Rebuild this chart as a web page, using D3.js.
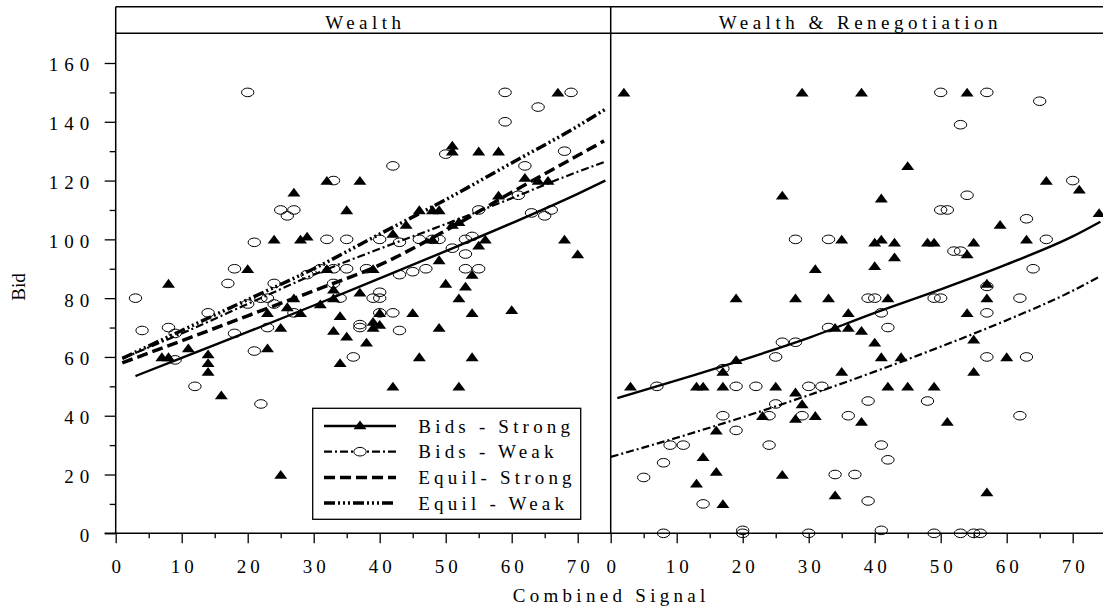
<!DOCTYPE html>
<html>
<head>
<meta charset="utf-8">
<script src="https://cdn.jsdelivr.net/npm/d3@7"></script>
<style>
body { margin:0; background:#fff; }
svg { display:block; font-family:"Liberation Serif","Times New Roman",serif; }
</style>
</head>
<body>
<svg id="chart" width="1103" height="611"></svg>
<script>
var panelTitles = ["Wealth", "Wealth & Renegotiation"];
var xTicks = [0,10,20,30,40,50,60,70];
var xMinorTicks = [5,15,25,35,45,55,65];
var yTicks = [0,20,40,60,80,100,120,140,160];
var yMinorTicks = [10,30,50,70,90,110,130,150];
var legendLabels = ["Bids - Strong","Bids - Weak","Equil- Strong","Equil - Weak"];

// Wealth panel, observed bids  [signal, bid]
var wealthStrong = [[8,85],[20,90],[24,100],[27,116],[28,100],[29,101],[32,120],[35,110],[37,120],
  [7,60],[8,60],[11,63],[14,61],[14,58],[14,55],[16,47],[23,63],[25,70],[25,20],
  [23,75],[26,77],[27,80],[28,75],[31,78],[33,80],[33,83],[32,90],[37,82],[39,90],
  [34,74],[33,69],[35,67],[34,58],[38,65],[39,72],[40,71],[39,70],[40,75],[42,102],
  [44,105],[45,75],[46,60],[42,50],[49,70],[49,93],[50,85],[53,84],[52,80],[54,88],
  [55,98],[56,100],[48,100],[51,105],[52,106],[46,110],[48,110],[49,110],[51,132],
  [51,130],[55,130],[58,130],[58,115],[62,121],[64,120],[65.5,120],[67,150],[68,100],[70,95],
  [60,76],[54,75],[54,60],[52,50]];
var wealthWeak = [[3,80],[4,69],[8,70],[9,68],[9,59],[12,50],[14,75],[17,85],[18,90],[18,68],
  [20,150],[20,78],[21,99],[21,62],[22,80],[23,80],[22,44],[23,70],[24,85],[24,78],
  [25,110],[26,108],[27,110],[27,75],[29,88],[31,90],[32,100],[33,90],[33,85],[33,120],
  [34,80],[35,100],[35,90],[36,60],[37,71],[37,70],[38,90],[39,80],[40,82],[40,80],
  [40,75],[42,75],[40,100],[42,125],[43,99],[43,88],[43,69],[45,89],[46,100],[47,90],
  [48,100],[49,100],[50,129],[51,97],[53,100],[54,101],[53,95],[53,90],[55,90],[55,110],
  [59,150],[59,140],[61,115],[62,125],[63,109],[65,108],[66,110],[64,145],[68,130],[69,150]];

// Wealth & Renegotiation panel
var renegStrong = [[2,150],[29,150],[38,150],[54,150],[26,115],[35,100],[31,90],[19,80],[28,80],[33,80],
  [45,125],[66,120],[71,117],[74,109],[41,114],[59,105],[40,99],[41,100],[43,99],[48,99],
  [49,99],[55,99],[63,100],[54,95],[43,94],[40,91],[57,85],[42,80],[57,80],[36,75],
  [34,70],[36,70],[19,59],[17,55],[3,50],[13,50],[14,50],[17,50],[25,50],[28,48],
  [35,55],[29,44],[23,40],[28,39],[31,40],[38,38],[16,35],[14,26],[16,21],[13,17],
  [26,20],[34,13],[17,10],[54,75],[38,69],[40,65],[55,66],[41,60],[44,60],[60,60],
  [55,55],[42,50],[45,50],[49,50],[51,38],[57,14]];
var renegWeak = [[28,100],[33,100],[50,150],[57,150],[65,147],[53,139],[70,120],[54,115],[50,110],[51,110],
  [63,107],[66,100],[52,96],[53,96],[64,90],[57,84],[39,80],[40,80],[49,80],[50,80],
  [62,80],[33,70],[26,65],[28,65],[25,60],[17,56],[7,50],[19,50],[22,50],[30,50],
  [32,50],[25,44],[17,40],[24,40],[29,40],[36,40],[19,35],[9,30],[11,30],[24,30],
  [8,24],[5,19],[34,20],[37,20],[14,10],[8,0],[20,1],[20,0],[30,0],[41,75],
  [57,75],[42,70],[57,60],[63,60],[39,45],[48,45],[62,40],[41,30],[42,25],[39,11],
  [41,1],[49,0],[53,0],[55,0],[56,0]];

// fitted curves
var wealthFitStrong = [[3,53.5],[10,59.7],[20,68.5],[30,77.5],[40,86.7],[50,96],[60,105.5],[70,115.5],[74.2,120]];
var wealthFitWeak = [[1,59.5],[10,68],[20,78],[30,88],[40,96.8],[50,105.2],[60,114],[70,123],[74,126.3]];
var equilStrong = [[1,58],[10,65.5],[20,74],[30,82.5],[40,91.3],[50,103],[60,116],[70,128.5],[74,133.5]];
var equilWeak = [[1,59.5],[10,69],[20,79.5],[30,90],[40,101.8],[50,113.5],[60,126],[70,138.5],[74.2,144.3]];
var renegFitStrong = [[1,46],[10,52],[20,59],[30,66.5],[40,75],[50,83],[60,91.5],[70,101],[74.2,106]];
var renegFitWeak = [[0,26],[10,32.5],[20,39.5],[30,47],[40,55],[50,63.5],[60,72.5],[70,82.5],[74.2,87.5]];

var styles = {
  bidsStrong: {dash:null, w:2.4},
  bidsWeak:   {dash:"8,3,2,3", w:2.2},
  eqStrong:   {dash:"11,5", w:3.5},
  eqWeak:     {dash:"11,3,2,3,2,3,2,3", w:3.5}
};

var svg = d3.select("#chart");
var FS = 19;
var y = d3.scaleLinear().domain([0,170]).range([533.3,33.6]);
var panelLeft = [115.7, 610.7], panelW = 495;
var stripTop = 6.7, stripBottom = 33.3;

var triPath = "M-6.5,4.2L6.5,4.2L0,-4.6Z";

var panels = [
  {title:panelTitles[0], strong:wealthStrong, weak:wealthWeak,
   lines:[[wealthFitStrong,"bidsStrong"],[wealthFitWeak,"bidsWeak"],[equilStrong,"eqStrong"],[equilWeak,"eqWeak"]]},
  {title:panelTitles[1], strong:renegStrong, weak:renegWeak,
   lines:[[renegFitStrong,"bidsStrong"],[renegFitWeak,"bidsWeak"]]}
];

panels.forEach(function (p, i) {
  var x = d3.scaleLinear().domain([0,75]).range([panelLeft[i], panelLeft[i]+panelW]);
  var g = svg.append("g");

  // markers
  g.selectAll(".tri")
   .data(p.strong)
   .enter()
   .append("path")
   .attr("d", triPath)
   .attr("transform", function (d) { return "translate(" + x(d[0]) + "," + y(d[1]) + ")"; })
   .attr("fill", "#000");

  g.selectAll(".circ")
   .data(p.weak)
   .enter()
   .append("ellipse")
   .attr("cx", function (d) { return x(d[0]); })
   .attr("cy", function (d) { return y(d[1]); })
   .attr("rx", 6.2).attr("ry", 4.3)
   .attr("fill", "none").attr("stroke", "#000").attr("stroke-width", 1);

  // fitted lines
  var line = d3.line()
               .x(function (d) { return x(d[0]); })
               .y(function (d) { return y(d[1]); })
               .curve(d3.curveMonotoneX);
  p.lines.forEach(function (l) {
    var s = styles[l[1]];
    g.append("path")
     .attr("d", line(l[0]))
     .attr("fill", "none")
     .attr("stroke", "#000")
     .attr("stroke-width", s.w)
     .attr("stroke-dasharray", s.dash);
  });

  // strip
  g.append("text")
   .attr("x", x(37.5)).attr("dx", 2.25)
   .attr("y", 29)
   .attr("text-anchor", "middle")
   .attr("font-size", FS)
   .attr("letter-spacing", 4.5)
   .text(p.title);

  // x axis
  var minor = d3.axisBottom(x).tickValues(xMinorTicks).tickSize(5).tickFormat("");
  var major = d3.axisBottom(x).tickValues(xTicks).tickSize(10);
  g.append("g").attr("transform","translate(0,533.3)").call(minor);
  var ax = g.append("g").attr("transform","translate(0,533.3)").call(major);
  ax.selectAll("text")
    .attr("y", 40).attr("dy", 0).attr("dx", 2)
    .attr("font-size", FS)
    .attr("letter-spacing", 4)
    .attr("font-family", "Liberation Serif, serif")
    .attr("fill", "#000");
  g.selectAll(".domain").remove();
  g.selectAll(".tick line").attr("stroke", "#000").attr("stroke-width", 1.3);
});

// y axis (left panel only)
var yMinor = d3.axisLeft(y).tickValues(yMinorTicks).tickSize(6).tickFormat("");
var yMajor = d3.axisLeft(y).tickValues(yTicks).tickSize(11).tickPadding(9.5);
svg.append("g").attr("transform","translate(115.7,0)").call(yMinor);
var ay = svg.append("g").attr("transform","translate(115.7,0)").call(yMajor);
ay.selectAll("text")
  .attr("dy", 8)
  .attr("font-size", FS)
  .attr("letter-spacing", 6)
  .attr("font-family", "Liberation Serif, serif")
  .attr("fill", "#000");
svg.selectAll(".domain").remove();
svg.selectAll(".tick line").attr("stroke", "#000").attr("stroke-width", 1.3);

// frame lines
var frame = svg.append("g").attr("stroke", "#000").attr("stroke-width", 1.5);
[115.7, 610.7, 1105.7].forEach(function (xx) {
  frame.append("line").attr("x1", xx).attr("x2", xx).attr("y1", stripTop).attr("y2", 533.3);
});
[stripTop, stripBottom, 533.3].forEach(function (yy) {
  frame.append("line").attr("x1", yy == 533.3 ? 104.7 : 115.7).attr("x2", 1105.7).attr("y1", yy).attr("y2", yy);
});

// axis titles
svg.append("text")
   .attr("transform", "translate(25,287) rotate(-90)")
   .attr("text-anchor", "middle")
   .attr("font-size", FS)
   .text("Bid");
svg.append("text")
   .attr("x", 609).attr("dx", 2.15)
   .attr("y", 601.7)
   .attr("text-anchor", "middle")
   .attr("font-size", FS)
   .attr("letter-spacing", 4.3)
   .text("Combined Signal");

// legend
var leg = svg.append("g");
leg.append("rect")
   .attr("x", 312.7).attr("y", 408.3)
   .attr("width", 268).attr("height", 111)
   .attr("fill", "#fff").attr("stroke", "#000").attr("stroke-width", 1.3);
var legKeys = ["bidsStrong","bidsWeak","eqStrong","eqWeak"];
var rows = leg.selectAll(".row")
   .data(legendLabels)
   .enter()
   .append("g")
   .attr("transform", function (d, k) { return "translate(0," + (426 + k*25.7) + ")"; });
rows.append("line")
    .attr("x1", 324).attr("x2", 396)
    .attr("stroke", "#000")
    .attr("stroke-width", function (d, k) { return styles[legKeys[k]].w; })
    .attr("stroke-dasharray", function (d, k) { return styles[legKeys[k]].dash; });
rows.filter(function (d, k) { return k == 0; })
    .append("path").attr("d", triPath).attr("transform", "translate(360,-1)").attr("fill", "#000");
rows.filter(function (d, k) { return k == 1; })
    .append("ellipse").attr("cx", 360).attr("cy", 0).attr("rx", 6.2).attr("ry", 4.3)
    .attr("fill", "#fff").attr("stroke", "#000");
rows.append("text")
    .attr("x", 418.3).attr("y", 6.7)
    .attr("font-size", FS)
    .attr("letter-spacing", 4.2)
    .text(function (d) { return d; });
</script>
</body>
</html>
